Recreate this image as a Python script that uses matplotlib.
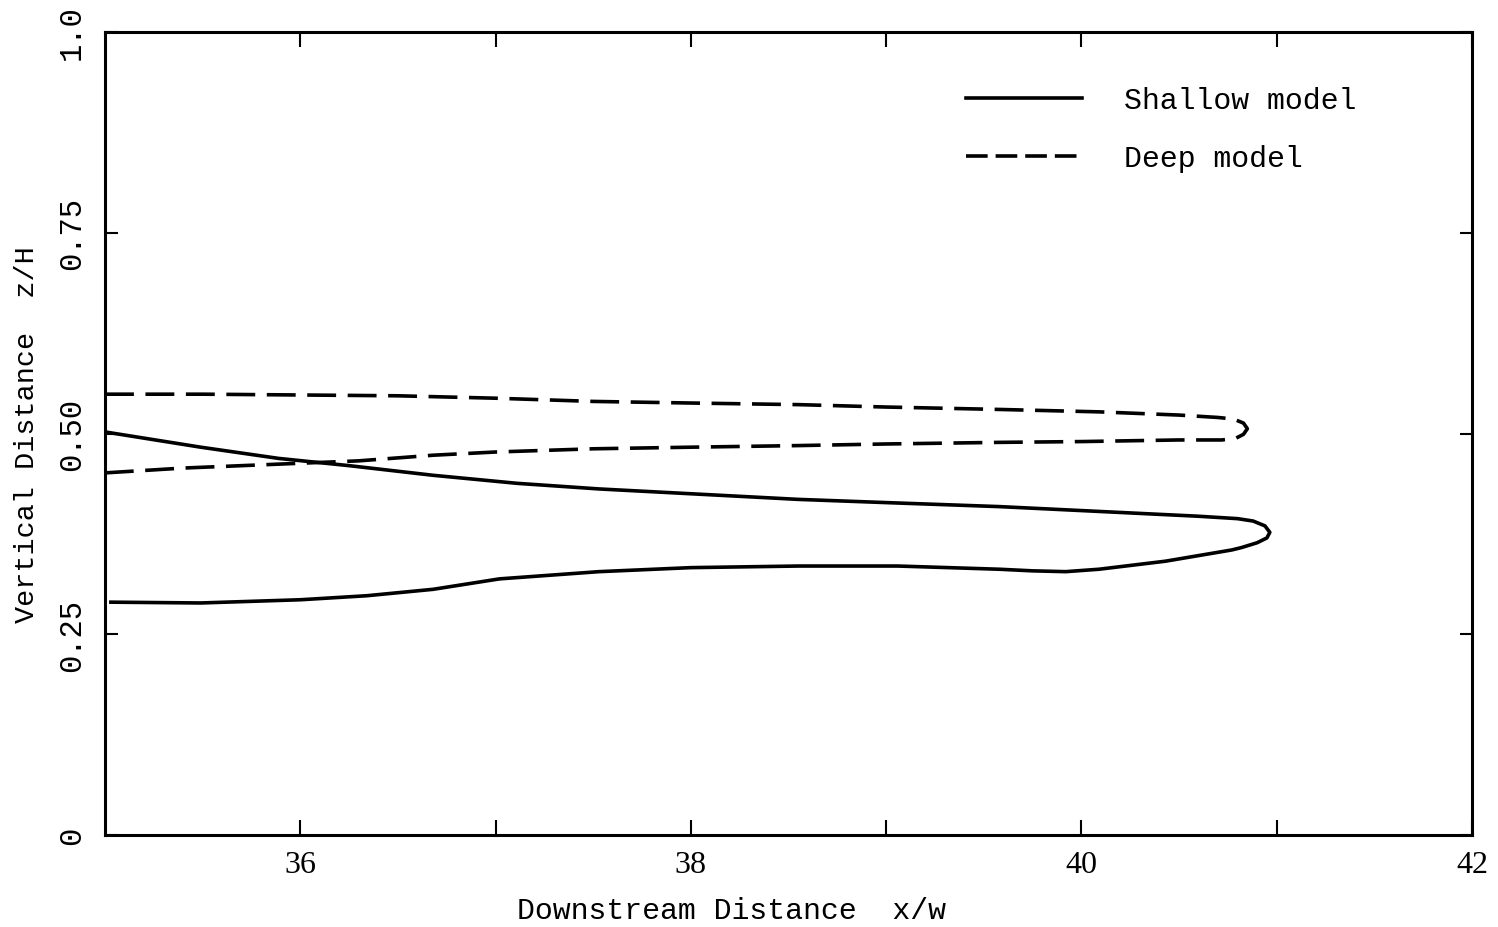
import matplotlib
matplotlib.use("Agg")
import matplotlib.pyplot as plt
from matplotlib.lines import Line2D

# Deep model contour (dashed): upper branch out to the tip, then back along the lower branch
deep_x = [35.0, 35.5, 36.0, 36.5, 37.0, 37.5, 38.0, 38.55, 39.0, 39.58, 40.09, 40.5, 40.7, 40.78, 40.83, 40.85,
          40.83, 40.79, 40.72, 40.5, 40.0, 39.58, 39.0, 38.55, 38.0, 37.5, 37.0, 36.68, 36.3, 35.9, 35.4, 35.0]
deep_z = [0.549, 0.549, 0.548, 0.547, 0.544, 0.540, 0.538, 0.536, 0.533, 0.530, 0.527, 0.523, 0.520, 0.518, 0.513, 0.506,
          0.499, 0.494, 0.492, 0.492, 0.490, 0.489, 0.487, 0.485, 0.483, 0.481, 0.477, 0.473, 0.466, 0.462, 0.457, 0.451]

# Shallow model contour (solid)
shallow_x = [35.0, 35.49, 35.89, 36.25, 36.68, 37.11, 37.53, 38.0, 38.55, 39.0, 39.58, 40.09, 40.6, 40.8, 40.88,
             40.94, 40.965, 40.95, 40.9, 40.82, 40.77, 40.43, 40.09, 39.92, 39.75, 39.58, 39.06, 38.55, 38.0, 37.53,
             37.02, 36.68, 36.34, 36.0, 35.49, 35.03]
shallow_z = [0.502, 0.483, 0.469, 0.460, 0.448, 0.438, 0.431, 0.425, 0.418, 0.414, 0.409, 0.403, 0.397, 0.394, 0.391,
             0.385, 0.377, 0.370, 0.364, 0.358, 0.355, 0.341, 0.331, 0.328, 0.329, 0.331, 0.335, 0.335, 0.333, 0.328,
             0.319, 0.306, 0.298, 0.293, 0.289, 0.290]

x_ticks = [36, 38, 40, 42]
y_ticks = [0, 0.25, 0.50, 0.75, 1.0]
y_labels = ["0", "0.25", "0.50", "0.75", "1.0"]

mono = "Liberation Mono"
serif = "Liberation Serif"

fig = plt.figure(figsize=(14.98, 9.28), dpi=100)
ax = fig.add_axes([0.0701, 0.0991, 0.9125, 0.8653])

ax.plot(shallow_x, shallow_z, color="black", lw=2.6, solid_joinstyle="round")
ax.plot(deep_x, deep_z, color="black", lw=2.6, dashes=[8, 3.2])

ax.set_xlim(35, 42)
ax.set_ylim(0, 1)

ax.set_xticks(x_ticks)
ax.set_xticks([37, 39, 41], minor=True)
ax.set_xticklabels([str(t) for t in x_ticks], fontsize=23, family=serif)
ax.set_yticks(y_ticks)
ax.set_yticklabels(y_labels, fontsize=22, family=mono, rotation=90, va="center")

ax.tick_params(axis="x", which="both", direction="in", length=11, width=1.5,
               top=True, pad=11)
ax.tick_params(axis="y", direction="in", length=9, width=1.5, right=True, pad=13)

for s in ax.spines.values():
    s.set_linewidth(2.2)

ax.set_xlabel("Downstream Distance  x/w", fontsize=21.5, family=mono, labelpad=12)
ax.xaxis.label.set_x(0.458)
ax.set_ylabel("Vertical Distance  z/H", fontsize=20.5, family=mono, labelpad=12)

handles = [Line2D([], [], color="black", lw=2.6),
           Line2D([], [], color="black", lw=2.6, dashes=[6, 2.2])]
ax.legend(handles, ["Shallow model", "Deep model"], loc="upper left",
          bbox_to_anchor=(0.61, 0.966), frameon=False, handlelength=3.9,
          handletextpad=1.4, labelspacing=1.0, prop={"family": mono, "size": 21.5})

fig.savefig("out.png", dpi=100)
